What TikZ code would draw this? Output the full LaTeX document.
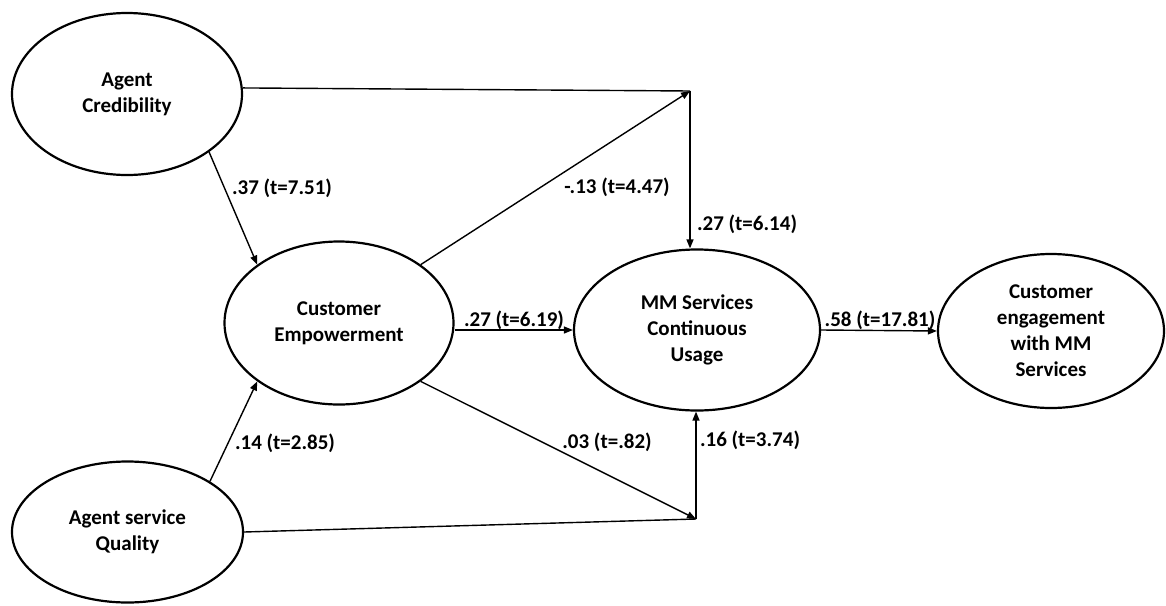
\documentclass[tikz,border=0pt]{standalone}
\usepackage{fontspec}
\setmainfont{Carlito}
\usetikzlibrary{shapes.geometric,arrows.meta}
\begin{document}
\begin{tikzpicture}[x=1pt,y=-1pt,
  lat/.style={ellipse,draw,line width=2.2pt,inner sep=0pt,align=center,font=\bfseries\fontsize{21}{26}\selectfont},
  conn/.style={line width=1.4pt},
  arr/.style={conn,-{Triangle[length=9pt,width=7pt]}},
  lbl/.style={font=\bfseries\fontsize{21}{26}\selectfont,inner sep=0pt}]
\useasboundingbox (0,0) rectangle (1166,605);
% latent variables
\node[lat,minimum width=230pt,minimum height=162pt] (ac) at (127,94) {Agent\\Credibility};
\node[lat,minimum width=229pt,minimum height=163pt] (ce) at (339,323) {Customer\\Empowerment};
\node[lat,minimum width=231pt,minimum height=141pt] (asq) at (127.5,532) {Agent service\\Quality};
\node[lat,minimum width=246pt,minimum height=161pt] (mm) at (697,330) {MM Services\\Continuous\\Usage};
\node[lat,minimum width=226pt,minimum height=154pt] (eng) at (1051,331) {Customer\\engagement\\with MM\\Services};
% corner points
\coordinate (ct) at (690,91);
\coordinate (cb) at (696,519);
% connectors
\draw[arr] (ac.south east) -- (ce.north west);
\draw[arr] (asq.north east) -- (ce.south west);
\draw[conn] (ac.3) -- (ct);
\draw[arr] (ce.north east) -- (ct);
\draw[arr] (ct) -- (ct |- mm.north);
\draw[arr] (ce.east |- mm.west) -- (mm.west);
\draw[arr] (ce.south east) -- (cb);
\draw[conn] (asq.east) -- (cb);
\draw[arr] (cb) -- (cb |- mm.south);
\draw[arr] (mm.east) -- (eng.west);
% labels
\node[lbl] (l1) at (282,188) {.37 (t=7.51)};
\node[lbl] (l2) at (617,187) {-.13 (t=4.47)};
\node[lbl] (l3) at (747,224) {.27 (t=6.14)};
\node[lbl] (l4) at (514,320) {.27 (t=6.19)};
\node[lbl] (l5) at (285,443) {.14 (t=2.85)};
\node[lbl] (l6) at (607,442) {.03 (t=.82)};
\node[lbl] (l7) at (750,440) {.16 (t=3.74)};
\node[lbl] (l8) at (880,320) {.58 (t=17.81)};
\end{tikzpicture}
\end{document}
